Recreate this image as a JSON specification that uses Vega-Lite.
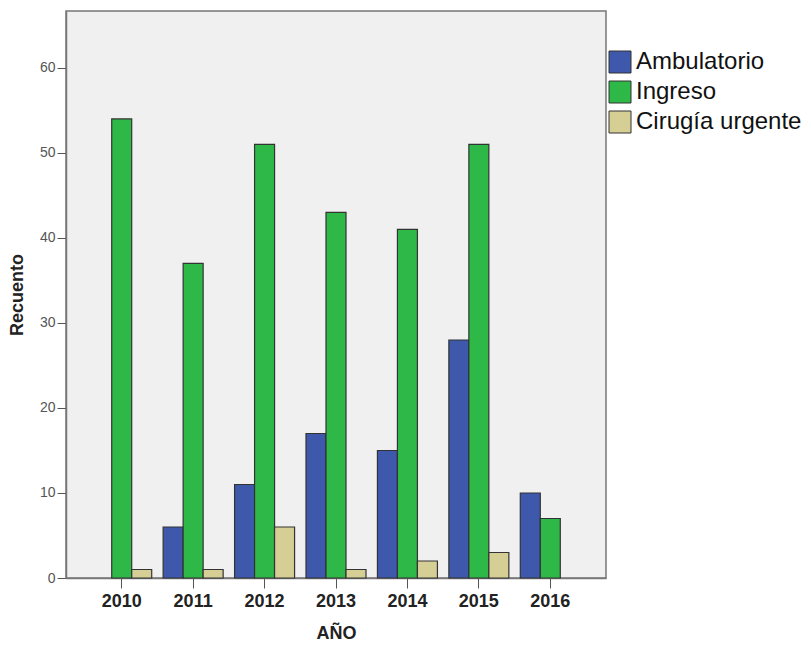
{
  "$schema": "https://vega.github.io/schema/vega-lite/v6.json",
  "autosize": {"type": "none"},
  "padding": {"left": 66, "top": 11, "right": 205, "bottom": 71},
  "width": 540,
  "height": 567,
  "background": "white",
  "config": {
    "font": "Liberation Sans",
    "view": {"fill": "#F0F0F0", "stroke": "#777777", "strokeWidth": 1.5}
  },
  "data": {
    "values": [
      {"year": "2011", "tipo": "Ambulatorio", "n": 6},
      {"year": "2012", "tipo": "Ambulatorio", "n": 11},
      {"year": "2013", "tipo": "Ambulatorio", "n": 17},
      {"year": "2014", "tipo": "Ambulatorio", "n": 15},
      {"year": "2015", "tipo": "Ambulatorio", "n": 28},
      {"year": "2016", "tipo": "Ambulatorio", "n": 10},
      {"year": "2010", "tipo": "Ingreso", "n": 54},
      {"year": "2011", "tipo": "Ingreso", "n": 37},
      {"year": "2012", "tipo": "Ingreso", "n": 51},
      {"year": "2013", "tipo": "Ingreso", "n": 43},
      {"year": "2014", "tipo": "Ingreso", "n": 41},
      {"year": "2015", "tipo": "Ingreso", "n": 51},
      {"year": "2016", "tipo": "Ingreso", "n": 7},
      {"year": "2010", "tipo": "Cirugía urgente", "n": 1},
      {"year": "2011", "tipo": "Cirugía urgente", "n": 1},
      {"year": "2012", "tipo": "Cirugía urgente", "n": 6},
      {"year": "2013", "tipo": "Cirugía urgente", "n": 1},
      {"year": "2014", "tipo": "Cirugía urgente", "n": 2},
      {"year": "2015", "tipo": "Cirugía urgente", "n": 3}
    ]
  },
  "mark": {"type": "bar", "stroke": "#333333", "strokeWidth": 1.2},
  "encoding": {
    "x": {
      "field": "year",
      "type": "nominal",
      "scale": {"paddingInner": 0.16, "paddingOuter": 0.36},
      "axis": {
        "title": "AÑO",
        "labelAngle": 0,
        "labelFontSize": 18,
        "labelFontWeight": "bold",
        "labelColor": "#222222",
        "labelPadding": 4,
        "tickSize": 10,
        "tickColor": "#555555",
        "domainColor": "#777777",
        "domainWidth": 1.5,
        "titleFontSize": 18,
        "titleFontWeight": "bold",
        "titleColor": "#222222",
        "titlePadding": 14
      }
    },
    "xOffset": {
      "field": "tipo",
      "type": "nominal",
      "sort": ["Ambulatorio", "Ingreso", "Cirugía urgente"],
      "scale": {"paddingInner": 0, "paddingOuter": 0}
    },
    "y": {
      "field": "n",
      "type": "quantitative",
      "scale": {"domain": [0, 66.7], "nice": false},
      "axis": {
        "title": "Recuento",
        "values": [0, 10, 20, 30, 40, 50, 60],
        "grid": false,
        "labelFontSize": 14,
        "labelColor": "#555555",
        "labelPadding": 2,
        "tickSize": 9,
        "tickColor": "#555555",
        "domainColor": "#777777",
        "domainWidth": 1.5,
        "titleFontSize": 18,
        "titleFontWeight": "bold",
        "titleColor": "#222222",
        "titlePadding": 13
      }
    },
    "color": {
      "field": "tipo",
      "type": "nominal",
      "sort": ["Ambulatorio", "Ingreso", "Cirugía urgente"],
      "scale": {
        "domain": ["Ambulatorio", "Ingreso", "Cirugía urgente"],
        "range": ["#3E58AC", "#2EB848", "#D5CF96"]
      },
      "legend": {
        "title": null,
        "orient": "none",
        "legendX": 542,
        "legendY": 39,
        "symbolType": "square",
        "symbolSize": 484,
        "symbolStrokeColor": "#333333",
        "symbolStrokeWidth": 1,
        "symbolOpacity": 1,
        "labelFontSize": 24,
        "labelLimit": 400,
        "labelColor": "#111111",
        "labelOffset": 4,
        "rowPadding": 4
      }
    }
  }
}
